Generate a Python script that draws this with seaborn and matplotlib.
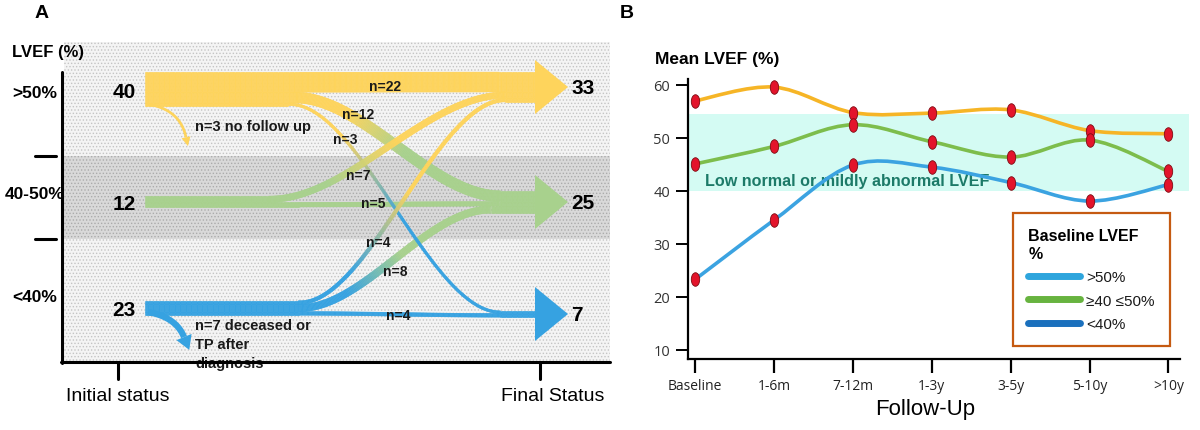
import numpy as np
import pandas as pd
import seaborn as sns
import matplotlib.pyplot as plt
import matplotlib.colors as mcolors
from matplotlib.path import Path
from matplotlib.patches import Rectangle, Polygon, PathPatch
from matplotlib.collections import PolyCollection
from matplotlib.lines import Line2D
from matplotlib.transforms import Affine2D

# ---- panel A data (patients moving between LVEF classes) ----
levels = [">50%", "40-50%", "<40%"]
initial_n = [40, 12, 23]
final_n = [33, 25, 7]
# rows = initial class, cols = final class
flows = [[22, 12, 3],
         [7, 5, 0],
         [4, 8, 4]]
lost_n = [3, 0, 7]
lost_text = ["no follow up", "", "deceased or\nTP after\ndiagnosis"]

# ---- panel B data (mean LVEF over follow-up) ----
periods = ["Baseline", "1-6m", "7-12m", "1-3y", "3-5y", "5-10y", ">10y"]
lvef_high = [57.0, 59.6, 54.8, 54.7, 55.3, 51.4, 50.8]
lvef_mid = [45.1, 48.4, 52.5, 49.3, 46.4, 49.6, 43.7]
lvef_low = [23.3, 34.5, 44.9, 44.5, 41.6, 38.1, 41.2]
band_range = (40, 54.5)
legend_labels = [">50%", "≥40 ≤50%", "<40%"]

sns.set_theme(style="ticks")
plt.rcParams["font.family"] = ["Liberation Sans", "DejaVu Sans"]
plt.rcParams["text.color"] = "black"
plt.rcParams["hatch.linewidth"] = 0.6

fig = plt.figure(figsize=(12, 4.31), dpi=100)

# =========================== panel A ===========================
axA = fig.add_axes([0, 0, 620 / 1200, 1])
axA.set_xlim(0, 620)
axA.set_ylim(431, 0)
axA.axis("off")

flow_cols = ["#fed45c", "#a8d18d", "#36a2e1"]

# background zones
zone_edges = [43, 157, 240, 362]
zone_face = ["#f4f4f4", "#d9d9d9", "#f4f4f4"]
zone_dots = ["#c4c4c4", "#ababab", "#c4c4c4"]
for i in range(3):
    axA.add_patch(Rectangle((64, zone_edges[i]), 546, zone_edges[i + 1] - zone_edges[i],
                            facecolor=zone_face[i], edgecolor=zone_dots[i],
                            hatch=".....", lw=0, zorder=0))

# axes frame
axA.plot([62, 62], [73, 364], color="black", lw=2.2, zorder=6)
axA.plot([61, 610], [363, 363], color="black", lw=2.2, zorder=6)
for xt in (118, 540):
    axA.plot([xt, xt], [363, 380], color="black", lw=2.2)
for yt in (157, 240):
    axA.plot([35, 56], [yt, yt], color="black", lw=2.2)

axA.text(42, 14, "A", fontsize=14, fontweight="bold", ha="center", va="center")
axA.text(12, 53, "LVEF (%)", fontsize=12, fontweight="bold", va="center")
for lab, yl in zip(levels, [93, 195, 298]):
    axA.text(35, yl, lab, fontsize=12.5, fontweight="bold", ha="center", va="center")
axA.text(118, 397, "Initial status", fontsize=14, ha="center", va="center")
axA.text(553, 397, "Final Status", fontsize=14, ha="center", va="center")

k = 0.9
src_center = [90, 202.5, 309]
dst_center = [88, 203, 315]
x_start, x_end = 145, 536
curve_span = {(0, 0): (300, 500), (0, 1): (295, 500), (0, 2): (290, 500),
              (1, 0): (270, 505), (1, 1): (300, 500),
              (2, 0): (300, 505), (2, 1): (300, 490), (2, 2): (300, 500)}
label_pos = {(0, 0): (385, 87), (0, 1): (358, 115), (0, 2): (345, 140),
             (1, 0): (358, 176), (1, 1): (373, 204),
             (2, 0): (378, 243), (2, 1): (395, 272), (2, 2): (398, 316)}
draw_order = [(0, 0), (1, 1), (2, 2), (0, 1), (2, 1), (0, 2), (1, 0), (2, 0)]

src_top = [c - k * sum(r) / 2 for c, r in zip(src_center, flows)]
dst_tot = [sum(flows[i][j] for i in range(3)) for j in range(3)]
dst_top = [c - k * t / 2 for c, t in zip(dst_center, dst_tot)]


def blend(c0, c1, v):
    a = np.array(mcolors.to_rgb(c0))
    b = np.array(mcolors.to_rgb(c1))
    return tuple(a * (1 - v) + b * v)


def band(ax, xs, xe, y0, y1, w, c0, c1, z):
    x = np.linspace(x_start, x_end, 320)
    t = np.clip((x - xs) / (xe - xs), 0, 1)
    s = t * t * (3 - 2 * t)
    y = y0 + (y1 - y0) * s
    dy = np.gradient(y, x)
    nrm = np.hypot(1, dy)
    nx, ny = -dy / nrm, 1 / nrm
    top = np.column_stack([x + nx * w / 2, y + ny * w / 2])
    bot = np.column_stack([x - nx * w / 2, y - ny * w / 2])
    quads = [[top[m], top[m + 1], bot[m + 1], bot[m]] for m in range(len(x) - 1)]
    smid = (s[:-1] + s[1:]) / 2
    cols = [blend(c0, c1, np.clip((v - 0.15) / 0.4, 0, 1)) for v in smid]
    ax.add_collection(PolyCollection(quads, facecolors=cols, edgecolors=cols,
                                     linewidths=0.4, zorder=z))


for z, (i, j) in enumerate(draw_order):
    n = flows[i][j]
    if n == 0:
        continue
    w = k * n
    y0 = src_top[i] + k * sum(flows[i][:j]) + w / 2
    y1 = dst_top[j] + k * sum(flows[r][j] for r in range(i)) + w / 2
    xs, xe = curve_span[(i, j)]
    band(axA, xs, xe, y0, y1, w, flow_cols[i], flow_cols[j], 2 + z * 0.1)
    lx, ly = label_pos[(i, j)]
    axA.text(lx, ly, f"n={n}", fontsize=10, fontweight="bold", color="#1a1a1a",
             ha="center", va="center", zorder=5)

# arrow heads at final status
for j in range(3):
    c = dst_center[j]
    axA.add_patch(Polygon([(535, c - 27), (568, c), (535, c + 27)],
                          closed=True, facecolor=flow_cols[j], lw=0, zorder=3))
    axA.text(571, c + 1, str(final_n[j]), fontsize=15, fontweight="bold",
             ha="left", va="center", zorder=5)
    axA.text(124, src_center[j] + 2, str(initial_n[j]), fontsize=15,
             fontweight="bold", ha="center", va="center", zorder=5)

# patients leaving (curled arrows)
curl_ctrl = {0: ((32, 5), (38, 33)), 2: ((28, 5), (36, 25))}
lost_label_y = {0: 120, 2: 319}
for i in range(3):
    n = lost_n[i]
    if n == 0:
        continue
    w = k * n
    bar_bottom = src_top[i] + k * sum(flows[i])
    p0 = np.array([148.0, bar_bottom - w / 2])
    p1 = p0 + np.array(curl_ctrl[i][0])
    p2 = p0 + np.array(curl_ctrl[i][1])
    tt = np.linspace(0, 1, 60)[:, None]
    pts = (1 - tt) ** 2 * p0 + 2 * (1 - tt) * tt * p1 + tt ** 2 * p2
    d = np.gradient(pts, axis=0)
    d = d / np.linalg.norm(d, axis=1)[:, None]
    nn = np.column_stack([-d[:, 1], d[:, 0]])
    poly = np.vstack([pts + nn * w / 2, (pts - nn * w / 2)[::-1]])
    axA.add_patch(Polygon(poly, closed=True, facecolor=flow_cols[i], lw=0, zorder=2))
    hl, hw = max(9, 2.2 * w), max(9, 2.6 * w)
    tip = p2 + d[-1] * hl
    axA.add_patch(Polygon([p2 + nn[-1] * hw / 2, tip, p2 - nn[-1] * hw / 2],
                          closed=True, facecolor=flow_cols[i], lw=0, zorder=2))
    axA.text(195, lost_label_y[i], f"n={n} {lost_text[i]}",
             fontsize=10.5, fontweight="bold", color="#1a1a1a", ha="left",
             va="top", linespacing=1.45, zorder=5)

# =========================== panel B ===========================
pos = np.arange(len(periods))
axB = fig.add_axes([688 / 1200, 1 - 360 / 431, (1180 - 688) / 1200, (360 - 80) / 431])
axB.set_xlim(-0.089, 6.147)
axB.set_ylim(8.3, 61.13)
axB.set_facecolor("none")

axB.add_patch(Rectangle((-0.07, band_range[0]), 6.33, band_range[1] - band_range[0],
                        facecolor="#d4fbf3", lw=0, clip_on=False, zorder=0))
axB.text(0.13, 41.9, "Low normal or mildly abnormal LVEF", fontsize=11.6,
         fontweight="bold", color="#1c7a68", va="center", zorder=1)

line_cols = ["#f6b526", "#7dbd4c", "#3ba3e1"]
series = [lvef_high, lvef_mid, lvef_low]


def smooth_path(xv, yv):
    p = np.column_stack([xv, yv]).astype(float)
    ext = np.vstack([p[0], p, p[-1]])
    verts = [p[0]]
    codes = [Path.MOVETO]
    for m in range(len(p) - 1):
        a, b, c, d = ext[m], ext[m + 1], ext[m + 2], ext[m + 3]
        verts += [b + (c - a) / 6, c - (d - b) / 6, c]
        codes += [Path.CURVE4] * 3
    return Path(verts, codes)


for yv, col in zip(series, line_cols):
    axB.add_patch(PathPatch(smooth_path(pos, yv), facecolor="none", edgecolor=col,
                            lw=2.6, capstyle="round", zorder=2))

df = pd.DataFrame({"pos": np.tile(pos, 3),
                   "lvef": np.concatenate(series),
                   "group": np.repeat(legend_labels, len(pos))})
ell = Path.unit_circle().transformed(Affine2D().scale(0.62, 1.0))
sns.scatterplot(data=df, x="pos", y="lvef", ax=axB, marker=ell, s=95,
                color="#e3142b", edgecolor="#7d0a12", linewidth=0.6,
                legend=False, zorder=4)

axB.set_xticks(pos)
axB.set_xticklabels(periods, fontsize=10, family=["Open Sans", "DejaVu Sans"])
axB.set_yticks([10, 20, 30, 40, 50, 60])
axB.set_yticklabels([10, 20, 30, 40, 50, 60], fontsize=10.5,
                    family=["Open Sans", "DejaVu Sans"], color="#333333")
axB.tick_params(axis="x", length=10, width=1.6, color="black", pad=4, labelcolor="#222222")
axB.tick_params(axis="y", length=9, width=1.4, color="black", pad=4)
axB.set_xlabel("")
axB.set_ylabel("")
sns.despine(ax=axB)
for sp in ("left", "bottom"):
    axB.spines[sp].set_linewidth(1.6)
    axB.spines[sp].set_color("black")

fig.text(925 / 1200, 1 - 410 / 431, "Follow-Up", fontsize=16, ha="center", va="center")
fig.text(655 / 1200, 1 - 60 / 431, "Mean LVEF (%)", fontsize=12.5, fontweight="bold",
         va="center")
fig.text(627 / 1200, 1 - 14 / 431, "B", fontsize=14, fontweight="bold", ha="center",
         va="center")

leg_cols = ["#2ea5dd", "#67b33f", "#1a70bd"]
handles = [Line2D([], [], color=c, lw=5) for c in leg_cols]
leg = axB.legend(handles, legend_labels, title="Baseline LVEF\n%", loc="upper left",
                 bbox_to_anchor=(1013 / 1200, 1 - 214 / 431),
                 bbox_transform=fig.transFigure, frameon=True, fancybox=False,
                 edgecolor="#c55a11", framealpha=1, borderpad=1.0, borderaxespad=0,
                 handlelength=3.4, handletextpad=0.4, labelspacing=0.62,
                 fontsize=11, alignment="left",
                 title_fontproperties={"weight": "bold", "size": 11.5})
leg.get_frame().set_linewidth(1.6)
for txt in leg.get_texts():
    txt.set_color("#1a1a1a")

fig.savefig("out.png", dpi=100)
